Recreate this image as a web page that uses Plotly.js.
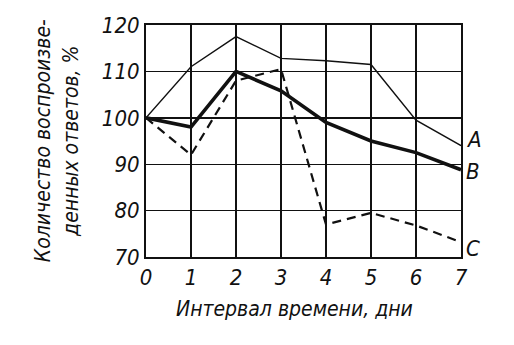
<!DOCTYPE html>
<html><head><meta charset="utf-8">
<script src="https://cdn.plot.ly/plotly-3.0.1.min.js"></script>
<style>body{margin:0;background:#fff}#c{width:514px;height:345px}</style>
</head><body><div id="c"></div>
<script>
const days = [0, 1, 2, 3, 4, 5, 6, 7];
const seriesA = [100, 111, 117.5, 112.8, 112.3, 111.5, 99.5, 94];
const seriesB = [100, 98, 110, 105.8, 99, 95, 92.5, 88.8];
const seriesC = [100, 92, 108, 110.5, 77, 79.5, 76.8, 73.2];
const labels = ['A', 'B', 'C'];
const xTitle = 'Интервал времени, дни';
const yTitle = 'Количество воспроизве-<br>денных ответов, %';

const fam = 'DejaVu Sans Condensed';
const f = (s) => ({family: fam, size: s, color: '#111', style: 'italic'});

const traces = [
  {x: days, y: seriesA, mode: 'lines', line: {color: '#111', width: 1.4}},
  {x: days, y: seriesB, mode: 'lines', line: {color: '#111', width: 3.6}},
  {x: days, y: seriesC, mode: 'lines', line: {color: '#111', width: 2.2, dash: '9px,6px'}}
];
const ends = [seriesA, seriesB, seriesC];
const anns = labels.map((t, i) => ({
  x: days[days.length - 1], y: ends[i][ends[i].length - 1], xref: 'x', yref: 'y',
  text: t, showarrow: false, xanchor: 'left', xshift: 3, yshift: [6, -2, -6][i], font: f(22)
}));
anns.push({x: 0.47, y: -0.165, xref: 'paper', yref: 'paper', text: xTitle, showarrow: false,
  xanchor: 'center', yanchor: 'top', font: f(21)});
anns.push({x: -0.285, y: 0.5, xref: 'paper', yref: 'paper', text: yTitle, showarrow: false,
  textangle: -90, xanchor: 'center', yanchor: 'middle', font: f(21)});

const layout = {
  width: 514, height: 345,
  margin: {l: 146, r: 53, t: 25, b: 88},
  paper_bgcolor: '#fff', plot_bgcolor: '#fff',
  showlegend: false,
  xaxis: {range: [0, 7], tickvals: days, ticks: '', showgrid: true, gridcolor: '#111', gridwidth: 1.4,
    zeroline: false, showline: true, linecolor: '#111', linewidth: 2, mirror: true,
    tickfont: f(22), fixedrange: true},
  yaxis: {range: [70, 120], tickvals: [70, 80, 90, 100, 110, 120], ticks: '', showgrid: true,
    gridcolor: '#111', gridwidth: 1.4, zeroline: false, showline: true, linecolor: '#111', linewidth: 2,
    mirror: true, tickfont: f(22), fixedrange: true},
  annotations: anns
};
Plotly.newPlot('c', traces, layout, {displayModeBar: false, staticPlot: true});
</script></body></html>
